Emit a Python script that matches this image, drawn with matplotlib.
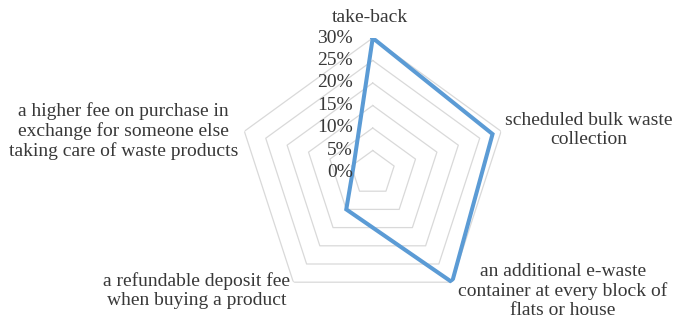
import numpy as np
import matplotlib
matplotlib.use('Agg')
import matplotlib.pyplot as plt

plt.rcParams['font.family'] = ['Liberation Serif', 'DejaVu Serif']

categories = ['take-back',
              'scheduled bulk waste\ncollection',
              'an additional e-waste\ncontainer at every block of\nflats or house',
              'a refundable deposit fee\nwhen buying a product',
              'a higher fee on purchase in\nexchange for someone else\ntaking care of waste products']
values = [0.30, 0.28, 0.30, 0.10, 0.045]
levels = [0.05, 0.10, 0.15, 0.20, 0.25, 0.30]
level_labels = ['0%', '5%', '10%', '15%', '20%', '25%', '30%']
label_offsets = [(-3, 21), (88, 1), (111, -9), (-97, -8), (-121, 0)]

txt = '#383838'
n = len(categories)
theta = np.arange(n) * 2 * np.pi / n
theta_c = np.append(theta, theta[0])

fig = plt.figure(figsize=(6.74, 3.18), dpi=100)
ax = fig.add_axes([0.3527, 0.0315, 0.4006, 0.849], projection='polar')
ax.set_theta_zero_location('N')
ax.set_theta_direction(-1)
ax.set_ylim(0, 0.30)
ax.grid(False)
ax.spines['polar'].set_visible(False)
ax.set_xticks([])
ax.set_yticks([])

# pentagon gridlines
for lv in levels:
    ax.plot(theta_c, [lv] * (n + 1), color='#d9d9d9', lw=0.9, zorder=1)

# data
vals = np.append(values, values[0])
ax.plot(theta_c, vals, color='#5b9bd5', lw=2.9, zorder=3, solid_joinstyle='miter')

# radial labels
for i, lab in enumerate(level_labels):
    ax.annotate(lab, xy=(0, i * 0.05), xytext=(-20, 0), textcoords='offset pixels',
                ha='right', va='center', fontsize=14, color=txt, zorder=4)

# category labels
for t, lab, off in zip(theta, categories, label_offsets):
    ax.annotate(lab, xy=(t, 0.30), xytext=off, textcoords='offset pixels',
                ha='center', va='center', multialignment='center',
                fontsize=14, color=txt, linespacing=1.15, annotation_clip=False)

plt.savefig('out.png', dpi=100)
plt.close()
